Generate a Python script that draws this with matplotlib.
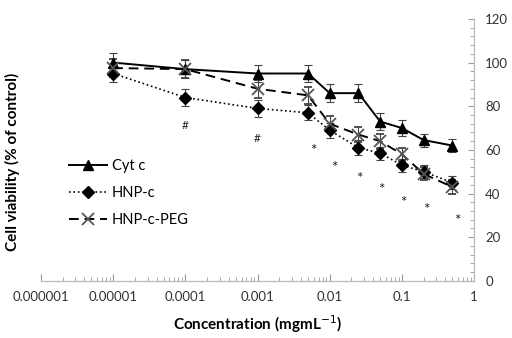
import matplotlib.pyplot as plt
import numpy as np
from matplotlib.ticker import LogLocator, FixedLocator, NullFormatter

plt.rcParams['font.family'] = ['Lato', 'DejaVu Sans']

# Data
conc = [0.00001, 0.0001, 0.001, 0.005, 0.01, 0.025, 0.05, 0.1, 0.2, 0.5]
cytc = [100, 97, 95, 95, 86, 86, 73, 70, 64.5, 62]
cytc_err = [4.5, 4, 4, 4, 4, 4, 4, 3.5, 3, 3]
hnpc = [95, 84, 79, 77, 69, 61, 58.5, 53, 50, 45]
hnpc_err = [4, 4, 4, 3.5, 3.5, 3.5, 3, 3, 3, 3]
peg = [97.5, 97, 88, 85, 72, 67, 64, 58, 49, 43]
peg_err = [4, 4, 4, 4, 3.5, 3.5, 3.5, 3, 3, 3]

# significance marks
hash_x = [0.0001, 0.001]
hash_y = [71, 65]
star_x = [0.006, 0.0115, 0.026, 0.052, 0.105, 0.22, 0.58]
star_y = [61, 53, 48, 43, 37, 34, 29]

fig = plt.figure(figsize=(5.12, 3.38), dpi=100)
ax = fig.add_axes([0.080, 0.169, 0.846, 0.775])

ekw = dict(ecolor='#444444', elinewidth=0.8, capsize=3, capthick=0.8)
c1 = ax.errorbar(conc, cytc, yerr=cytc_err, color='black', lw=1.4, ls='-',
                 marker='^', ms=7, **ekw)
c2 = ax.errorbar(conc, hnpc, yerr=hnpc_err, color='black', lw=1.2, ls=':',
                 marker='D', ms=6, **ekw)
c3 = ax.errorbar(conc, peg, yerr=peg_err, color='black', lw=1.4, ls=(0, (5, 3)),
                 marker='x', ms=8, mec='#555555', mew=1.3, **ekw)

for x, y in zip(hash_x, hash_y):
    ax.text(x, y, '#', ha='center', va='center', fontsize=8.5, color='#222222')
for x, y in zip(star_x, star_y):
    ax.text(x, y - 1.5, '*', ha='center', va='center', fontsize=11, color='#222222')

ax.set_xscale('log')
ax.set_xlim(1e-6, 1)
ax.set_ylim(0, 120)
ax.xaxis.set_minor_locator(LogLocator(base=10, subs=np.arange(2, 10), numticks=10))
ax.xaxis.set_minor_formatter(NullFormatter())
ax.set_xticks([1e-6, 1e-5, 1e-4, 1e-3, 1e-2, 1e-1, 1])
ax.set_xticklabels(['0.000001', '0.00001', '0.0001', '0.001', '0.01', '0.1', '1'])

ax.yaxis.tick_right()
ax.set_yticks(np.arange(0, 121, 20))
ax.yaxis.set_minor_locator(FixedLocator(np.arange(0, 121, 4)))

for s in ['top', 'left']:
    ax.spines[s].set_visible(False)
for s in ['bottom', 'right']:
    ax.spines[s].set_color('#bbbbbb')
    ax.spines[s].set_linewidth(0.9)

ax.tick_params(axis='both', which='both', direction='in', colors='#999999',
               labelcolor='#333333', labelsize=9.5)
ax.tick_params(axis='x', which='major', length=5, pad=7)
ax.tick_params(axis='x', which='minor', length=3)
ax.tick_params(axis='y', which='major', length=4, pad=8)
ax.tick_params(axis='y', which='minor', length=3)

ax.set_xlabel('Concentration (mgmL$^{-1}$)', fontsize=11, fontweight='bold', labelpad=8)
fig.text(0.025, 0.52, 'Cell viability (% of control)', rotation=90, ha='center',
         va='center', fontsize=11, fontweight='bold')

ax.legend([c1.lines[0], c2.lines[0], c3.lines[0]], ['Cyt c', 'HNP-c', 'HNP-c-PEG'],
          loc='upper left', bbox_to_anchor=(0.035, 0.515), frameon=False,
          fontsize=10.5, handlelength=2.6, labelspacing=0.9, handletextpad=0.3)

fig.savefig('out.png', dpi=100)
